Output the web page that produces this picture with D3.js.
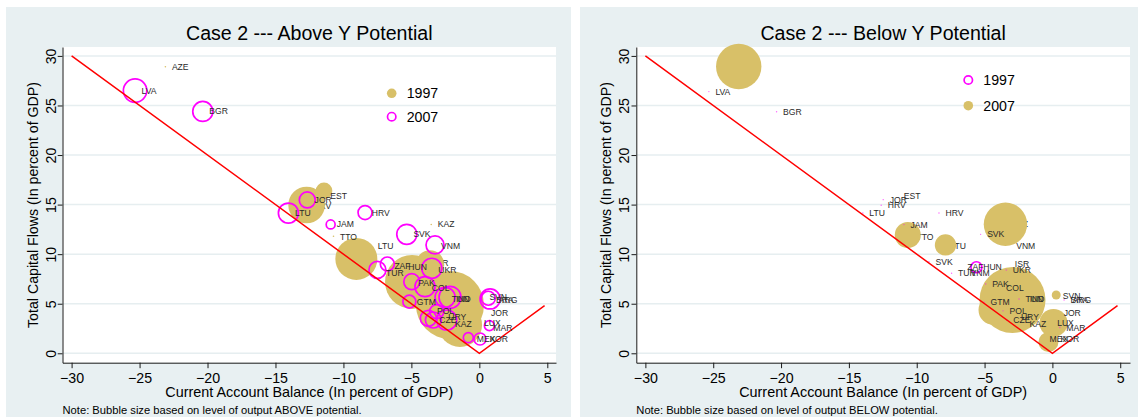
<!DOCTYPE html>
<html>
<head>
<meta charset="utf-8">
<script src="https://cdn.jsdelivr.net/npm/d3@7"></script>
<style>
  body { margin: 0; background: #ffffff; }
  svg { display: block; font-family: "Liberation Sans", Arial, Helvetica, sans-serif; }
</style>
</head>
<body>
<svg id="chart" width="1138" height="417"></svg>
<script>
// ---- axis ticks and reference line -------------------------------------
const xTicks = [-30, -25, -20, -15, -10, -5, 0, 5];
const yTicks = [0, 5, 10, 15, 20, 25, 30];
// 45-degree benchmark: capital flows equal to |current account balance|
const refLine = [[-30, 30], [0, 0], [4.8, 4.8]];

// ---- Case 2, output ABOVE potential ------------------------------------
// bubbles: x = current account balance, y = total capital flows, s = output gap
const above1997 = [
  { x: -23.1, y: 28.9, s: 0 },
  { x: -12.71, y: 14.96, s: 3.35 },
  { x: -11.43, y: 16.38, s: 0.69 },
  { x: -10.73, y: 11.8, s: 0 },
  { x: -9.05, y: 9.52, s: 4.41 },
  { x: -7.95, y: 10.85, s: 0 },
  { x: -3.54, y: 13.0, s: 0 },
  { x: -4.95, y: 7.2, s: 7.29 },
  { x: -3.63, y: 8.99, s: 1.96 },
  { x: -2.16, y: 4.87, s: 11.56 },
  { x: -1.42, y: 2.86, s: 4.84 }
];
const above2007 = [
  { x: -25.33, y: 26.5, s: 1.37 },
  { x: -20.35, y: 24.4, s: 1.0 },
  { x: -12.66, y: 15.47, s: 0.64 },
  { x: -14.05, y: 14.15, s: 1.0 },
  { x: -8.41, y: 14.2, s: 0.49 },
  { x: -10.94, y: 13.0, s: 0.2 },
  { x: -5.34, y: 12.0, s: 1.0 },
  { x: -3.26, y: 10.93, s: 0.81 },
  { x: -6.77, y: 9.01, s: 0.49 },
  { x: -7.5, y: 8.41, s: 0.72 },
  { x: -3.5, y: 8.58, s: 1.0 },
  { x: -4.97, y: 7.22, s: 0.64 },
  { x: -4.0, y: 6.72, s: 1.0 },
  { x: -2.52, y: 5.65, s: 1.0 },
  { x: -2.16, y: 5.65, s: 1.21 },
  { x: -5.15, y: 5.21, s: 0.42 },
  { x: -3.14, y: 4.2, s: 0.49 },
  { x: -3.75, y: 3.53, s: 0.64 },
  { x: -3.38, y: 3.36, s: 0.64 },
  { x: -2.4, y: 3.36, s: 1.0 },
  { x: -0.81, y: 1.57, s: 0.25 },
  { x: 0.79, y: 5.48, s: 1.0 },
  { x: 0.66, y: 5.55, s: 0.49 },
  { x: 0.74, y: 2.79, s: 0.25 },
  { x: 0.05, y: 1.44, s: 0.36 }
];
// country codes: drawn beneath the bubbles, then on top of them
const aboveCodesBehind = [
  { code: "HRV", x: -12.7, y: 14.85 },
  { code: "ISR", x: -3.8, y: 9.07 }
];
const aboveCodes = [
  { code: "AZE", x: -23.1, y: 28.9 },
  { code: "LVA", x: -25.33, y: 26.5 },
  { code: "BGR", x: -20.35, y: 24.4 },
  { code: "EST", x: -11.45, y: 15.9 },
  { code: "JOR", x: -12.6, y: 15.45 },
  { code: "LTU", x: -14.04, y: 14.15 },
  { code: "HRV", x: -8.4, y: 14.2 },
  { code: "JAM", x: -10.97, y: 13.0 },
  { code: "TTO", x: -10.73, y: 11.75 },
  { code: "KAZ", x: -3.54, y: 13.0 },
  { code: "SVK", x: -5.33, y: 12.0 },
  { code: "VNM", x: -3.3, y: 10.85 },
  { code: "LTU", x: -7.95, y: 10.85 },
  { code: "ZAF", x: -6.73, y: 8.8 },
  { code: "HUN", x: -5.7, y: 8.68 },
  { code: "TUR", x: -7.34, y: 8.07 },
  { code: "UKR", x: -3.5, y: 8.4 },
  { code: "PAK", x: -4.97, y: 7.06 },
  { code: "COL", x: -3.98, y: 6.55 },
  { code: "TUN", x: -2.51, y: 5.48 },
  { code: "IND", x: -2.2, y: 5.48 },
  { code: "GTM", x: -5.08, y: 5.15 },
  { code: "POL", x: -3.6, y: 4.3 },
  { code: "CZE", x: -3.42, y: 3.36 },
  { code: "URY", x: -2.76, y: 3.7 },
  { code: "KAZ", x: -2.27, y: 2.93 },
  { code: "SVN", x: 0.26, y: 5.71 },
  { code: "BRA", x: 0.75, y: 5.38 },
  { code: "ARG", x: 0.95, y: 5.38 },
  { code: "JOR", x: 0.38, y: 4.1 },
  { code: "LUX", x: -0.13, y: 3.03 },
  { code: "MAR", x: 0.55, y: 2.6 },
  { code: "MEX", x: -0.67, y: 1.43 },
  { code: "KOR", x: 0.26, y: 1.43 }
];

// ---- Case 2, output BELOW potential ------------------------------------
const below2007 = [
  { x: -23.12, y: 28.93, s: 5.15 },
  { x: -10.66, y: 11.94, s: 1.69 },
  { x: -7.88, y: 10.93, s: 1.14 },
  { x: -3.46, y: 13.02, s: 4.71 },
  { x: -2.94, y: 5.38, s: 10.9 },
  { x: -4.34, y: 4.37, s: 2.25 },
  { x: 0.08, y: 3.06, s: 1.96 },
  { x: -0.29, y: 1.14, s: 1.0 },
  { x: 0.28, y: 5.88, s: 0.2 }
];
const below1997 = [
  { x: -25.32, y: 26.4, s: 0 },
  { x: -20.33, y: 24.37, s: 0 },
  { x: -12.47, y: 15.5, s: 0 },
  { x: -12.62, y: 14.93, s: 0 },
  { x: -13.97, y: 14.15, s: 0 },
  { x: -8.36, y: 14.15, s: 0 },
  { x: -10.94, y: 12.98, s: 0 },
  { x: -5.29, y: 12.0, s: 0 },
  { x: -9.1, y: 9.24, s: 0 },
  { x: -7.43, y: 8.07, s: 0 },
  { x: -5.6, y: 8.68, s: 0.3 },
  { x: -3.4, y: 8.4, s: 0 },
  { x: -4.92, y: 7.0, s: 0 },
  { x: -5.04, y: 5.15, s: 0 },
  { x: -3.64, y: 4.28, s: 0 },
  { x: -3.37, y: 3.36, s: 0 },
  { x: -2.46, y: 5.48, s: 0 },
  { x: 0.86, y: 5.38, s: 0 },
  { x: 0.55, y: 2.6, s: 0 }
];
const belowCodesBehind = [
  { code: "TTO", x: -10.5, y: 11.77 },
  { code: "LTU", x: -8.0, y: 10.87 },
  { code: "KAZ", x: -3.5, y: 13.02 }
];
const belowCodes = [
  { code: "LVA", x: -25.32, y: 26.4 },
  { code: "BGR", x: -20.33, y: 24.37 },
  { code: "JOR", x: -12.47, y: 15.5 },
  { code: "EST", x: -11.44, y: 15.9 },
  { code: "HRV", x: -12.62, y: 14.93 },
  { code: "LTU", x: -13.97, y: 14.15 },
  { code: "HRV", x: -8.36, y: 14.15 },
  { code: "JAM", x: -10.94, y: 12.98 },
  { code: "SVK", x: -5.29, y: 12.0 },
  { code: "VNM", x: -3.15, y: 10.85 },
  { code: "SVK", x: -9.1, y: 9.24 },
  { code: "ZAF", x: -6.76, y: 8.74 },
  { code: "HUN", x: -5.58, y: 8.68 },
  { code: "TUR", x: -7.43, y: 8.07 },
  { code: "VNM", x: -6.52, y: 8.07 },
  { code: "ISR", x: -3.25, y: 8.98 },
  { code: "UKR", x: -3.4, y: 8.4 },
  { code: "PAK", x: -4.92, y: 7.0 },
  { code: "COL", x: -3.89, y: 6.56 },
  { code: "GTM", x: -5.04, y: 5.15 },
  { code: "TUN", x: -2.46, y: 5.48 },
  { code: "IND", x: -2.15, y: 5.48 },
  { code: "POL", x: -3.64, y: 4.28 },
  { code: "CZE", x: -3.37, y: 3.36 },
  { code: "URY", x: -2.8, y: 3.7 },
  { code: "KAZ", x: -2.17, y: 2.93 },
  { code: "SVN", x: 0.29, y: 5.78 },
  { code: "BRA", x: 0.86, y: 5.38 },
  { code: "ARG", x: 1.0, y: 5.38 },
  { code: "JOR", x: 0.35, y: 4.1 },
  { code: "LUX", x: -0.13, y: 3.03 },
  { code: "MAR", x: 0.55, y: 2.6 },
  { code: "MEX", x: -0.69, y: 1.43 },
  { code: "KOR", x: 0.12, y: 1.43 }
];

// ---- styling -----------------------------------------------------------
const GOLD = "#d8c068";
const MAGENTA = "#ff00ff";
const PANEL_BG = "#e8f0f2";
const GRID = "#e6eef0";

const panels = [
  {
    title: "Case 2 --- Above Y Potential",
    note: "Note: Bubble size based on level of output ABOVE potential.",
    bg: { x: 6, y: 7, w: 565, h: 412 },
    plot: { left: 62.5, right: 556, top: 47, bottom: 362.7 },
    xDomain: [-30.67, 5.64],
    filled: above1997, open: above2007,
    codes: aboveCodes, codesBehind: aboveCodesBehind,
    legend: { x: 391.7, items: [
      { label: "1997", kind: "filled", y: 93.3 },
      { label: "2007", kind: "open", y: 116.7 }
    ] }
  },
  {
    title: "Case 2 --- Below Y Potential",
    note: "Note: Bubble size based on level of output BELOW potential.",
    bg: { x: 580, y: 7, w: 560, h: 412 },
    plot: { left: 636.3, right: 1130, top: 47, bottom: 362.7 },
    xDomain: [-30.67, 5.72],
    filled: below2007, open: below1997,
    codes: belowCodes, codesBehind: belowCodesBehind,
    legend: { x: 968.3, items: [
      { label: "1997", kind: "open", y: 80 },
      { label: "2007", kind: "filled", y: 105.7 }
    ] }
  }
];

const yDomain = [-0.95, 30.9];
const svg = d3.select("#chart");

function drawPanel(p) {
  const g = svg.append("g");
  const x = d3.scaleLinear().domain(p.xDomain).range([p.plot.left, p.plot.right]);
  const y = d3.scaleLinear().domain(yDomain).range([p.plot.bottom, p.plot.top]);
  const r = d3.scaleSqrt().domain([0, 1]).range([0, 10]);

  g.append("rect")
    .attr("x", p.bg.x).attr("y", p.bg.y)
    .attr("width", p.bg.w).attr("height", p.bg.h)
    .attr("fill", PANEL_BG);

  g.append("rect")
    .attr("x", p.plot.left).attr("y", p.plot.top)
    .attr("width", p.plot.right - p.plot.left)
    .attr("height", p.plot.bottom - p.plot.top)
    .attr("fill", "#ffffff");

  g.append("g").selectAll("line").data(yTicks).join("line")
    .attr("x1", p.plot.left).attr("x2", p.plot.right)
    .attr("y1", d => y(d)).attr("y2", d => y(d))
    .attr("stroke", GRID).attr("stroke-width", 1.5);

  const codeText = (sel) => sel
    .attr("x", d => x(d.x) + 6.5)
    .attr("y", d => y(d.y))
    .attr("dy", "0.35em")
    .attr("font-size", 8.6)
    .attr("fill", "#2a2a2a")
    .text(d => d.code);

  g.append("g").selectAll("text").data(p.codesBehind).join("text").call(codeText);

  // filled bubbles (zero-weight points show as specks)
  g.append("g").selectAll("circle").data(p.filled).join("circle")
    .attr("cx", d => x(d.x)).attr("cy", d => y(d.y))
    .attr("r", d => d.s > 0 ? r(d.s) : 0.8)
    .attr("fill", GOLD);

  // hollow bubbles
  g.append("g").selectAll("circle").data(p.open).join("circle")
    .attr("cx", d => x(d.x)).attr("cy", d => y(d.y))
    .attr("r", d => d.s > 0 ? r(d.s) : 0.7)
    .attr("fill", d => d.s > 0 ? "none" : MAGENTA)
    .attr("fill-opacity", 0.6)
    .attr("stroke", d => d.s > 0 ? MAGENTA : "none")
    .attr("stroke-width", 1.7);

  g.append("path")
    .datum(refLine)
    .attr("d", d3.line().x(d => x(d[0])).y(d => y(d[1])))
    .attr("fill", "none")
    .attr("stroke", "#ff0000")
    .attr("stroke-width", 1.5);

  g.append("g").selectAll("text").data(p.codes).join("text").call(codeText);

  // x axis
  const xAxis = g.append("g")
    .attr("transform", `translate(0,${p.plot.bottom})`)
    .call(d3.axisBottom(x).tickValues(xTicks).tickSizeInner(5.5).tickSizeOuter(0).tickPadding(5));
  xAxis.select(".domain").attr("stroke", "#1a1a1a").attr("stroke-width", 1);
  xAxis.selectAll(".tick line").attr("stroke", "#1a1a1a");
  xAxis.selectAll(".tick text")
    .attr("font-family", "Liberation Sans, Arial, sans-serif")
    .attr("font-size", 14.2).attr("fill", "#000")
    .attr("dy", null).attr("y", 20.6);

  // y axis with upright-rotated labels
  const yAxis = g.append("g")
    .attr("transform", `translate(${p.plot.left},0)`)
    .call(d3.axisLeft(y).tickValues(yTicks).tickSizeInner(4.8).tickSizeOuter(0));
  yAxis.select(".domain").attr("stroke", "#1a1a1a").attr("stroke-width", 1);
  yAxis.selectAll(".tick line").attr("stroke", "#1a1a1a");
  yAxis.selectAll(".tick text")
    .attr("font-family", "Liberation Sans, Arial, sans-serif")
    .attr("font-size", 14.2).attr("fill", "#000")
    .attr("transform", "rotate(-90)")
    .attr("x", 0).attr("y", -7).attr("dy", null)
    .attr("text-anchor", "middle");

  const cx = (p.plot.left + p.plot.right) / 2;

  g.append("text")
    .attr("x", cx).attr("y", 40)
    .attr("text-anchor", "middle")
    .attr("font-size", 19.6).attr("fill", "#000")
    .text(p.title);

  g.append("text")
    .attr("x", cx).attr("y", 397.3)
    .attr("text-anchor", "middle")
    .attr("font-size", 14.4).attr("fill", "#000")
    .text("Current Account Balance (In percent of GDP)");

  g.append("text")
    .attr("transform", `translate(${p.plot.left - 25},205) rotate(-90)`)
    .attr("text-anchor", "middle")
    .attr("font-size", 14.2).attr("fill", "#000")
    .text("Total Capital Flows (In percent of GDP)");

  g.append("text")
    .attr("x", p.plot.left).attr("y", 414)
    .attr("font-size", 11.2).attr("fill", "#000")
    .text(p.note);

  // legend
  const lg = g.append("g");
  p.legend.items.forEach(it => {
    if (it.kind === "filled") {
      lg.append("circle").attr("cx", p.legend.x).attr("cy", it.y).attr("r", 4.8).attr("fill", GOLD);
    } else {
      lg.append("circle").attr("cx", p.legend.x).attr("cy", it.y).attr("r", 4.2)
        .attr("fill", "none").attr("stroke", MAGENTA).attr("stroke-width", 1.7);
    }
    lg.append("text")
      .attr("x", p.legend.x + 15).attr("y", it.y).attr("dy", "0.36em")
      .attr("font-size", 14.2).attr("fill", "#000")
      .text(it.label);
  });
}

panels.forEach(drawPanel);
</script>
</body>
</html>
